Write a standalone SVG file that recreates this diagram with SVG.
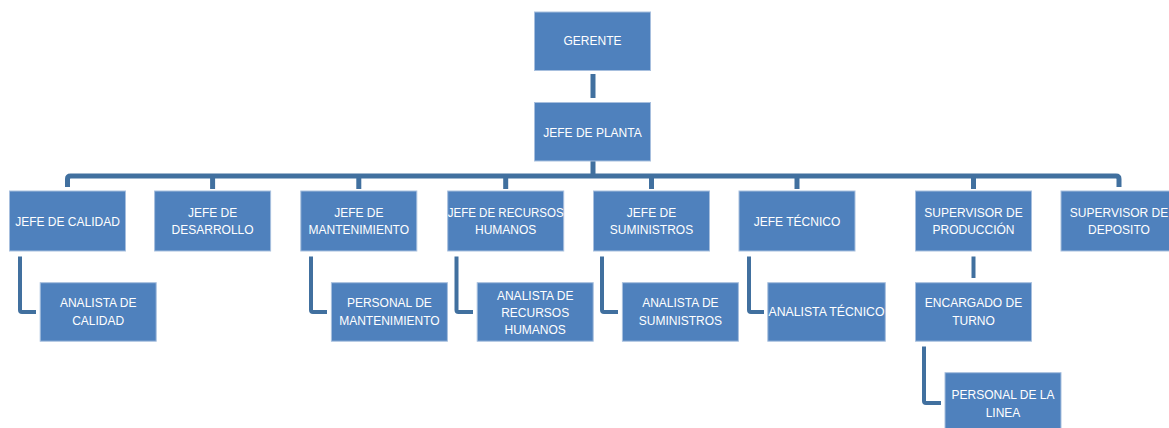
<svg xmlns="http://www.w3.org/2000/svg" width="1169" height="428" viewBox="0 0 1169 428">
<style>
.box{fill:#4F81BD;stroke:#A7BFDE;stroke-width:1}
.t{font-family:"Liberation Sans",Arial,sans-serif;font-size:12px;fill:#FFFFFF;text-anchor:middle}
.c{fill:none;stroke:#41709F;stroke-width:5;stroke-linejoin:round}
.c4{fill:none;stroke:#41709F;stroke-width:4;stroke-linejoin:round}
</style>
<rect width="1169" height="428" fill="#FFFFFF"/>
<g id="connectors">
<path class="c" d="M593,74 V98"/>
<path class="c" d="M593,161 V176"/>
<path class="c" d="M67.5,187 V179 Q67.5,176 70.5,176 H1116 Q1119,176 1119,179 V187"/>
<path class="c" d="M212.6,176 V189 M358.8,176 V189 M505.7,176 V189 M651.5,176 V189 M797,176 V189 M973.5,176 V189"/>
<path class="c4" d="M20,256.5 V310 Q20,312 22,312 H36"/>
<path class="c4" d="M311,256.5 V310 Q311,312 313,312 H327"/>
<path class="c4" d="M456.5,256.5 V310 Q456.5,312 458.5,312 H473"/>
<path class="c4" d="M602,256.5 V310 Q602,312 604,312 H618"/>
<path class="c4" d="M749,256.5 V310 Q749,312 751,312 H764"/>
<path class="c4" d="M973.5,256.5 V278"/>
<path class="c4" d="M924,346.5 V401 Q924,403 926,403 H941"/>
</g>
<g id="gerente"><rect class="box" x="534.5" y="12" width="116" height="58.5"/><text class="t" x="592.5" y="45">GERENTE</text></g>
<g id="jefe-planta"><rect class="box" x="534.5" y="102.5" width="116" height="58.5"/><text class="t" x="592.5" y="137">JEFE DE PLANTA</text></g>
<g id="jefe-calidad"><rect class="box" x="9.5" y="191" width="116" height="60"/><text class="t" x="67.5" y="225.5">JEFE DE CALIDAD</text></g>
<g id="jefe-desarrollo"><rect class="box" x="154.6" y="191" width="116" height="60"/><text class="t" x="212.6" y="216.5">JEFE DE</text><text class="t" x="212.6" y="234">DESARROLLO</text></g>
<g id="jefe-mantenimiento"><rect class="box" x="300.8" y="191" width="116" height="60"/><text class="t" x="358.8" y="216.5">JEFE DE</text><text class="t" x="358.8" y="234">MANTENIMIENTO</text></g>
<g id="jefe-rrhh"><rect class="box" x="447.7" y="191" width="116" height="60"/><text class="t" x="505.7" y="216.5" textLength="116" lengthAdjust="spacingAndGlyphs">JEFE DE RECURSOS</text><text class="t" x="505.7" y="234">HUMANOS</text></g>
<g id="jefe-suministros"><rect class="box" x="593.5" y="191" width="116" height="60"/><text class="t" x="651.5" y="216.5">JEFE DE</text><text class="t" x="651.5" y="234">SUMINISTROS</text></g>
<g id="jefe-tecnico"><rect class="box" x="739" y="191" width="116" height="60"/><text class="t" x="797" y="225.5">JEFE TÉCNICO</text></g>
<g id="supervisor-produccion"><rect class="box" x="915.5" y="191" width="116" height="60"/><text class="t" x="973.5" y="216.5">SUPERVISOR DE</text><text class="t" x="973.5" y="234">PRODUCCIÓN</text></g>
<g id="supervisor-deposito"><rect class="box" x="1061" y="191" width="116" height="60"/><text class="t" x="1119" y="216.5">SUPERVISOR DE</text><text class="t" x="1119" y="234">DEPOSITO</text></g>
<g id="analista-calidad"><rect class="box" x="40.2" y="282.7" width="116" height="58.5"/><text class="t" x="98.2" y="306.5">ANALISTA DE</text><text class="t" x="98.2" y="324.5">CALIDAD</text></g>
<g id="personal-mantenimiento"><rect class="box" x="331.4" y="282.7" width="116" height="58.5"/><text class="t" x="389.4" y="306.5">PERSONAL DE</text><text class="t" x="389.4" y="324.5">MANTENIMIENTO</text></g>
<g id="analista-rrhh"><rect class="box" x="477.2" y="282.7" width="116" height="58.5"/><text class="t" x="535.2" y="300">ANALISTA DE</text><text class="t" x="535.2" y="317">RECURSOS</text><text class="t" x="535.2" y="333.5">HUMANOS</text></g>
<g id="analista-suministros"><rect class="box" x="622.4" y="282.7" width="116" height="58.5"/><text class="t" x="680.4" y="306.5">ANALISTA DE</text><text class="t" x="680.4" y="324.5">SUMINISTROS</text></g>
<g id="analista-tecnico"><rect class="box" x="767.8" y="282.7" width="117.5" height="58.5"/><text class="t" x="826.5" y="316" textLength="116" lengthAdjust="spacingAndGlyphs">ANALISTA TÉCNICO</text></g>
<g id="encargado-turno"><rect class="box" x="915.5" y="282.7" width="116" height="58.5"/><text class="t" x="973.5" y="306.5">ENCARGADO DE</text><text class="t" x="973.5" y="324.5">TURNO</text></g>
<g id="personal-linea"><rect class="box" x="945" y="372.7" width="116" height="58.5"/><text class="t" x="1003" y="399">PERSONAL DE LA</text><text class="t" x="1003" y="416.5">LINEA</text></g>
</svg>
